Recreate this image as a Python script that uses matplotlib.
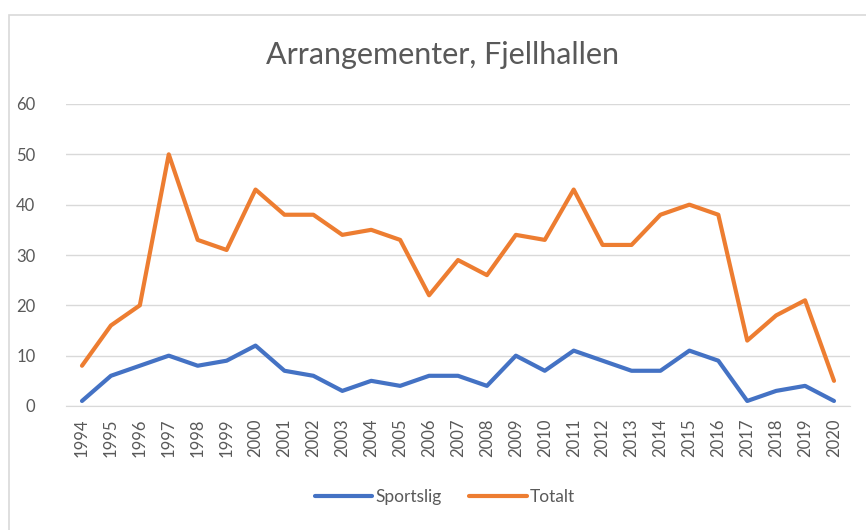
import matplotlib.pyplot as plt
import matplotlib.patches as patches

# Data
years = ['1994', '1995', '1996', '1997', '1998', '1999', '2000', '2001', '2002',
         '2003', '2004', '2005', '2006', '2007', '2008', '2009', '2010', '2011',
         '2012', '2013', '2014', '2015', '2016', '2017', '2018', '2019', '2020']
sportslig = [1, 6, 8, 10, 8, 9, 12, 7, 6, 3, 5, 4, 6, 6, 4, 10, 7, 11, 9, 7, 7, 11, 9, 1, 3, 4, 1]
totalt = [8, 16, 20, 50, 33, 31, 43, 38, 38, 34, 35, 33, 22, 29, 26, 34, 33, 43, 32, 32, 38, 40, 38, 13, 18, 21, 5]

plt.rcParams['font.family'] = ['Lato', 'DejaVu Sans']
grey = '#595959'

fig = plt.figure(figsize=(8.66, 5.3), dpi=100)

# Chart frame (Excel chart border)
frame = patches.Rectangle((9 / 866, -0.1), 1.0, 1 - 15 / 530 + 0.1,
                          transform=fig.transFigure, fill=False,
                          edgecolor='#D9D9D9', linewidth=1.2)
fig.patches.append(frame)

ax = fig.add_axes([66 / 866, 1 - 406 / 530, 784 / 866, 302 / 530])

x = range(len(years))
ax.plot(x, sportslig, color='#4472C4', linewidth=3, label='Sportslig',
        solid_capstyle='round', solid_joinstyle='round')
ax.plot(x, totalt, color='#ED7D31', linewidth=3, label='Totalt',
        solid_capstyle='round', solid_joinstyle='round')

ax.set_xlim(-0.553, len(years) - 1 + 0.553)
ax.set_ylim(0, 60)
ax.set_yticks(range(0, 61, 10))
ax.set_xticks(list(x))
ax.set_xticklabels(years, rotation=90)

ax.grid(axis='y', color='#D9D9D9', linewidth=1)
ax.set_axisbelow(True)
for side in ['top', 'right', 'left']:
    ax.spines[side].set_visible(False)
ax.spines['bottom'].set_color('#D9D9D9')
ax.tick_params(axis='both', length=0, colors=grey, labelsize=12)
ax.tick_params(axis='y', pad=22)
ax.tick_params(axis='x', pad=9)

fig.text(442 / 866, 1 - 55 / 530, 'Arrangementer, Fjellhallen', ha='center',
         va='center', fontsize=22, color=grey)

fig.legend(loc='center', bbox_to_anchor=(445 / 866, 1 - 497 / 530), ncol=2,
           frameon=False, fontsize=12.5, labelcolor=grey, handlelength=3.3,
           handletextpad=0.2, columnspacing=1.6)

fig.savefig('out.png', dpi=100)
